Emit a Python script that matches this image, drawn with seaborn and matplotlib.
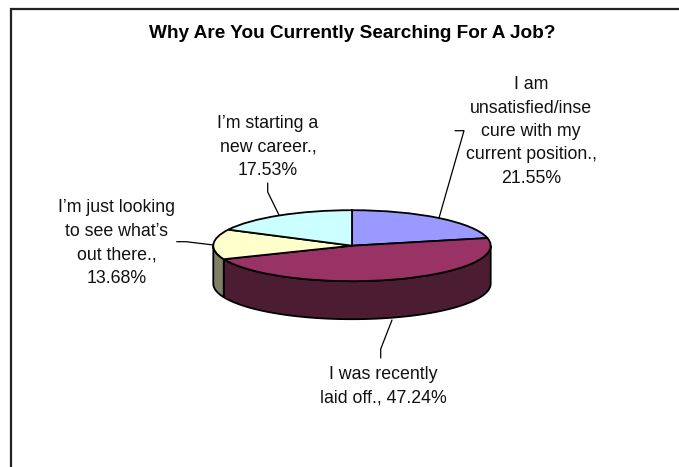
import numpy as np
import matplotlib
matplotlib.use("Agg")
import matplotlib.pyplot as plt
import seaborn as sns

# Survey answers, clockwise from twelve o'clock
categories = [
    "I am\nunsatisfied/inse\ncure with my\ncurrent position.,\n",
    "I was recently\nlaid off., ",
    "I\u2019m just looking\nto see what\u2019s\nout there.,\n",
    "I\u2019m starting a\nnew career.,\n",
]
shares = [21.55, 47.24, 13.68, 17.53]
title = "Why Are You Currently Searching For A Job?"
top_colors = ["#9999FF", "#993366", "#FFFFCC", "#CCFFFF"]
side_colors = ["#4C4C80", "#4C1C33", "#808066", "#668080"]

W, H = 679, 467
sns.set_theme(style="white")
plt.rcParams["font.family"] = ["Liberation Sans", "DejaVu Sans"]
fig = plt.figure(figsize=(W / 100, H / 100), dpi=100, facecolor="white")

# Overlay in pixel units for the frame, leaders and text
page = fig.add_axes([0, 0, 1, 1], zorder=3)
page.set_xlim(0, W)
page.set_ylim(H, 0)
page.axis("off")
page.patch.set_alpha(0)

# The disc: a tilted pie is a regular pie in a squashed axes
cx, cy, rx, ry, depth = 352, 245.7, 138.7, 35.5, 38
axes_box = [(cx - rx) / W, 1 - (cy + ry + depth) / H, 2 * rx / W, (2 * ry + depth) / H]
ax = fig.add_axes(axes_box, zorder=2)
ax.pie(
    shares,
    colors=top_colors,
    startangle=90,
    counterclock=False,
    radius=1,
    wedgeprops=dict(edgecolor="black", linewidth=1.3, zorder=3, clip_on=False),
)
ax.set_aspect("auto")
d = depth / ry
ax.set_xlim(-1, 1)
ax.set_ylim(-1 - d, 1)

# Side wall: only the part of each slice on the near half of the rim shows
edges = np.cumsum([0] + shares) / sum(shares) * 360
for start, end, col in zip(edges[:-1], edges[1:], side_colors):
    a, b = max(start, 90), min(end, 270)
    if b <= a:
        continue
    t = np.radians(np.linspace(a, b, 80))
    x, y = np.sin(t), np.cos(t)
    ax.fill(
        np.r_[x, x[::-1]], np.r_[y, y[::-1] - d],
        facecolor=col, edgecolor="black", linewidth=1.3, zorder=2, clip_on=False,
    )

# Chart frame, open on the right and at the bottom
page.plot([10.5, 10.5, W], [H, 8.5, 8.5], color="#222222", lw=1.6, solid_joinstyle="miter", clip_on=False)

# Leader lines from each label to its slice
leaders = [
    ([455, 464, 439], [130.7, 130.7, 218]),
    ([380.7, 380.7, 392], [358, 349, 320]),
    ([176.7, 186, 213.5], [241.7, 241.7, 245]),
    ([267.7, 267.7, 279], [183, 192, 215]),
]
for xs, ys in leaders:
    page.plot(xs, ys, color="black", lw=0.9)

label_pos = [(531, 131.5), (383, 386), (116.5, 243), (268, 147)]
for cat, val, (lx, ly) in zip(categories, shares, label_pos):
    page.text(lx, ly, f"{cat}{val:.2f}%", ha="center", va="center", ma="center",
              fontsize=12.8, linespacing=1.49, color="#111111")

page.text(352, 34, title, ha="center", va="center", fontsize=13.7, fontweight="bold", color="black")

fig.savefig("out.png", dpi=100, facecolor="white")
